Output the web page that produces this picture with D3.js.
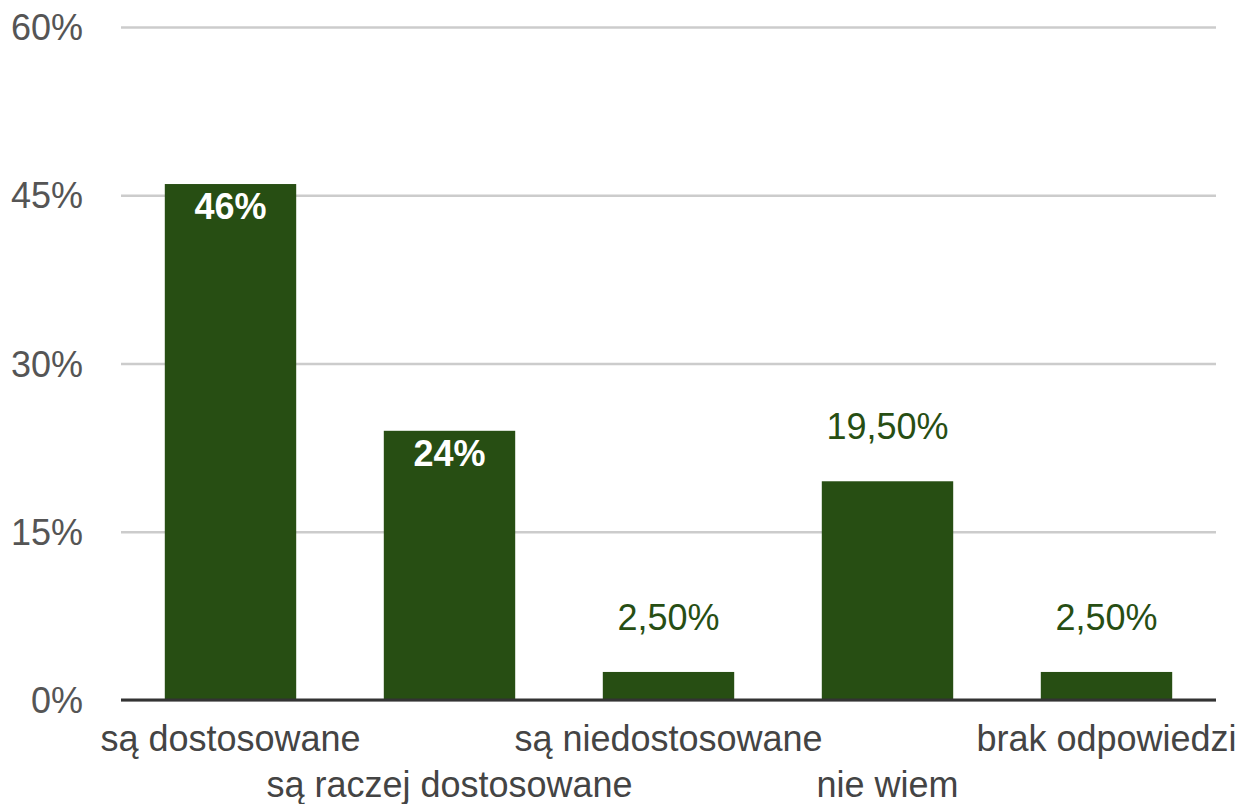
<!DOCTYPE html>
<html>
<head>
<meta charset="utf-8">
<script src="https://cdn.jsdelivr.net/npm/d3@7"></script>
<style>
  body { margin: 0; background: #fff; }
  svg { display: block; font-family: "Liberation Sans", Arial, sans-serif; }
</style>
</head>
<body>
<svg id="chart"></svg>
<script>
"use strict";

var categories = ["są dostosowane", "są raczej dostosowane", "są niedostosowane", "nie wiem", "brak odpowiedzi"],
    values = [46, 24, 2.5, 19.5, 2.5],
    valueLabels = ["46%", "24%", "2,50%", "19,50%", "2,50%"],
    yTicks = [0, 15, 30, 45, 60];

var Width = 1244,
    Height = 804,
    plotLeft = 121,
    plotRight = 1216,
    plotTop = 27,
    plotBottom = 700,
    fontSize = 36,
    barColor = "#274e13";

var svg = d3.select("#chart")
    .attr("width", Width)
    .attr("height", Height);

var x = d3.scaleBand()
    .domain(categories)
    .range([plotLeft, plotRight])
    .paddingInner(0.4)
    .paddingOuter(0.2);

var y = d3.scaleLinear()
    .domain([0, 60])
    .range([plotBottom, plotTop]);

// gridlines + y labels
var yAxis = svg.append("g")
    .attr("transform", "translate(" + plotLeft + ",0)")
    .call(d3.axisLeft(y)
        .tickValues(yTicks)
        .tickSize(-(plotRight - plotLeft))
        .tickPadding(38)
        .tickFormat(function (d) { return d + "%"; }));

yAxis.select(".domain").remove();
yAxis.selectAll("line")
    .attr("stroke", "#cccccc")
    .attr("stroke-width", 2.5);
yAxis.selectAll("text")
    .attr("fill", "#555")
    .attr("font-size", fontSize)
    .attr("dy", "0.35em")
    .attr("font-family", "Liberation Sans, Arial, sans-serif");

// bars
svg.selectAll(".bar")
    .data(values)
    .enter()
    .append("rect")
    .attr("class", "bar")
    .attr("x", function (d, i) { return x(categories[i]); })
    .attr("y", function (d) { return y(d); })
    .attr("width", x.bandwidth())
    .attr("height", function (d) { return y(0) - y(d); })
    .attr("fill", barColor);

// baseline
svg.append("line")
    .attr("x1", plotLeft)
    .attr("x2", plotRight)
    .attr("y1", y(0))
    .attr("y2", y(0))
    .attr("stroke", "#333")
    .attr("stroke-width", 3);

// value labels: tall bars get them inside, the rest above
svg.selectAll(".val")
    .data(values)
    .enter()
    .append("text")
    .attr("class", "val")
    .attr("x", function (d, i) { return x(categories[i]) + x.bandwidth() / 2; })
    .attr("y", function (d) { return d >= 20 ? y(d) + 35 : y(d) - 42; })
    .attr("text-anchor", "middle")
    .attr("font-size", fontSize)
    .attr("font-weight", function (d) { return d >= 20 ? "bold" : "normal"; })
    .attr("fill", function (d) { return d >= 20 ? "#fff" : barColor; })
    .text(function (d, i) { return valueLabels[i]; });

// category labels, staggered on two rows
var xAxis = svg.append("g")
    .attr("transform", "translate(0," + plotBottom + ")")
    .call(d3.axisBottom(x).tickSize(0).tickPadding(0));

xAxis.select(".domain").remove();
xAxis.selectAll("text")
    .attr("fill", "#444")
    .attr("font-size", fontSize)
    .attr("font-family", "Liberation Sans, Arial, sans-serif")
    .attr("dy", null)
    .attr("y", function (d, i) { return i % 2 === 0 ? 51 : 97; });
</script>
</body>
</html>
